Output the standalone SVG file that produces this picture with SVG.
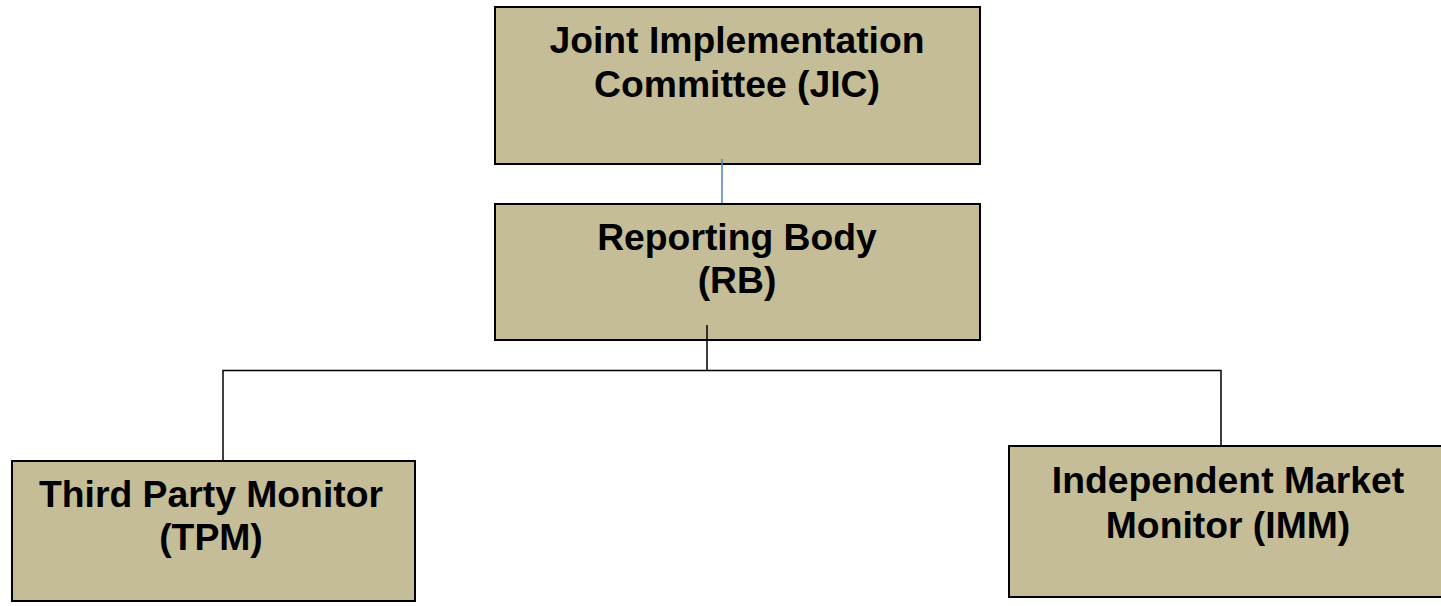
<svg xmlns="http://www.w3.org/2000/svg" width="1441" height="606" viewBox="0 0 1441 606">
<style>
.box{fill:#C4BD97;stroke:#000;stroke-width:2}
.t{font-family:"Liberation Sans",Arial,sans-serif;font-weight:bold;font-size:37.3px;fill:#000;text-anchor:middle}
.c{fill:none;stroke:#000;stroke-width:1.5}
</style>
<rect width="1441" height="606" fill="#fff"/>
<g id="jic">
<rect class="box" x="495" y="7" width="485" height="157"/>
<text class="t" x="737" y="53">Joint Implementation</text>
<text class="t" x="737" y="97">Committee (JIC)</text>
</g>
<g id="rb">
<rect class="box" x="495" y="204" width="485" height="136"/>
<text class="t" x="737" y="250">Reporting Body</text>
<text class="t" x="737" y="293">(RB)</text>
</g>
<g id="tpm">
<rect class="box" x="12" y="461" width="403" height="140"/>
<text class="t" x="211" y="507">Third Party Monitor</text>
<text class="t" x="211" y="550">(TPM)</text>
</g>
<g id="imm">
<rect class="box" x="1009" y="446" width="440" height="151"/>
<text class="t" x="1228" y="493">Independent Market</text>
<text class="t" x="1228" y="538">Monitor (IMM)</text>
</g>
<g id="connectors">
<line x1="722" y1="159" x2="722" y2="203" stroke="#4F81BD" stroke-width="1.5"/>
<line class="c" x1="707" y1="325" x2="707" y2="370.5"/>
<polyline class="c" points="223,460 223,370.5 1221,370.5 1221,445"/>
</g>
</svg>
